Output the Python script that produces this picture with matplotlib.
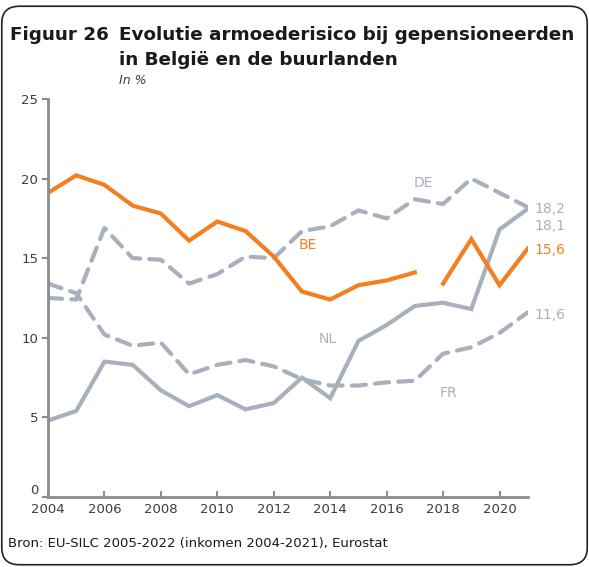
import matplotlib.pyplot as plt
from matplotlib.patches import FancyBboxPatch
import numpy as np

years = list(range(2004, 2022))

# armoederisico gepensioneerden, in %
be = [19.1, 20.2, 19.6, 18.3, 17.8, 16.1, 17.3, 16.7, 15.1, 12.9, 12.4, 13.3, 13.6, 14.1,
      np.nan, 13.4, 16.2, 13.3, 15.6]
be_years = years[:14] + [2017.5] + years[14:]  # break in series 2017-2018
de = [12.5, 12.4, 16.9, 15.0, 14.9, 13.4, 14.0, 15.1, 15.0, 16.7, 17.0, 18.0, 17.5, 18.7,
      18.4, 20.0, 19.1, 18.2]
nl = [4.8, 5.4, 8.5, 8.3, 6.7, 5.7, 6.4, 5.5, 5.9, 7.5, 6.2, 9.8, 10.8, 12.0, 12.2, 11.8,
      16.8, 18.1]
fr = [13.4, 12.8, 10.2, 9.5, 9.7, 7.7, 8.3, 8.6, 8.2, 7.4, 7.0, 7.0, 7.2, 7.3, 9.0, 9.4,
      10.3, 11.6]

end_labels = ['18,2', '18,1', '15,6', '11,6']

ORANGE = '#F47F20'
GREY = '#A7B1BE'
AXIS = '#8C8C8C'
TXT = '#3C3C3C'

plt.rcParams['font.family'] = 'DejaVu Sans'

fig = plt.figure(figsize=(5.89, 5.67), dpi=100, facecolor='white')
ax = fig.add_axes([0.0815, 0.1235, 0.8145, 0.702])

dash = (3.4, 2.2)
ax.plot(years, fr, color=GREY, lw=3, dashes=dash, dash_capstyle='round')
ax.plot(years, de, color=GREY, lw=3, dashes=dash, dash_capstyle='round')
ax.plot(years, nl, color=GREY, lw=3, solid_joinstyle='miter')
ax.plot(be_years, be, color=ORANGE, lw=3, solid_joinstyle='miter')

ax.set_xlim(2004, 2021)
ax.set_ylim(0, 25)
ax.set_xticks(range(2004, 2021, 2))
ax.set_yticks(range(0, 26, 5))

for s in ['top', 'right']:
    ax.spines[s].set_visible(False)
for s in ['left', 'bottom']:
    ax.spines[s].set_color(AXIS)
    ax.spines[s].set_linewidth(2)
ax.tick_params(axis='x', direction='in', length=4, width=1.5, color=AXIS,
               labelsize=9.5, labelcolor=TXT, pad=4)
ax.tick_params(axis='y', direction='out', length=4, width=1.5, color=AXIS,
               labelsize=9.5, labelcolor=TXT, pad=3)
ax.get_yticklabels()[0].set_va('bottom')

# series labels
lab = dict(fontsize=10, ha='center', va='center')
ax.text(2017.3, 19.7, 'DE', color=GREY, **lab)
ax.text(2013.2, 15.8, 'BE', color=ORANGE, **lab)
ax.text(2013.9, 9.9, 'NL', color=GREY, **lab)
ax.text(2018.2, 6.5, 'FR', color=GREY, **lab)

# end values
endv = dict(fontsize=10, ha='left', va='center', clip_on=False)
ax.text(2021.25, 18.1, end_labels[0], color=GREY, **endv)
ax.text(2021.25, 17.0, end_labels[1], color=GREY, **endv)
ax.text(2021.25, 15.5, end_labels[2], color=ORANGE, **endv)
ax.text(2021.25, 11.4, end_labels[3], color=GREY, **endv)

# titles
fig.text(10 / 589, 1 - 35 / 567, 'Figuur 26', fontsize=13.2, fontweight='bold',
         color='#1a1a1a', va='center')
fig.text(119 / 589, 1 - 35 / 567, 'Evolutie armoederisico bij gepensioneerden',
         fontsize=13.2, fontweight='bold', color='#1a1a1a', va='center')
fig.text(119 / 589, 1 - 60 / 567, 'in België en de buurlanden', fontsize=13.2,
         fontweight='bold', color='#1a1a1a', va='center')
fig.text(119 / 589, 1 - 80 / 567, 'In %', fontsize=9, style='italic', color=TXT,
         va='center')
fig.text(8 / 589, 1 - 543 / 567, 'Bron: EU-SILC 2005-2022 (inkomen 2004-2021), Eurostat',
         fontsize=9.5, color='#1a1a1a', va='center')

# rounded frame
frame = FancyBboxPatch((0.003, 0.004), 0.994, 0.985, boxstyle='round,pad=0,rounding_size=0.03',
                       transform=fig.transFigure, fill=False, edgecolor='#222222', lw=1.2)
fig.patches.append(frame)

fig.savefig('out.png', dpi=100, facecolor='white')
